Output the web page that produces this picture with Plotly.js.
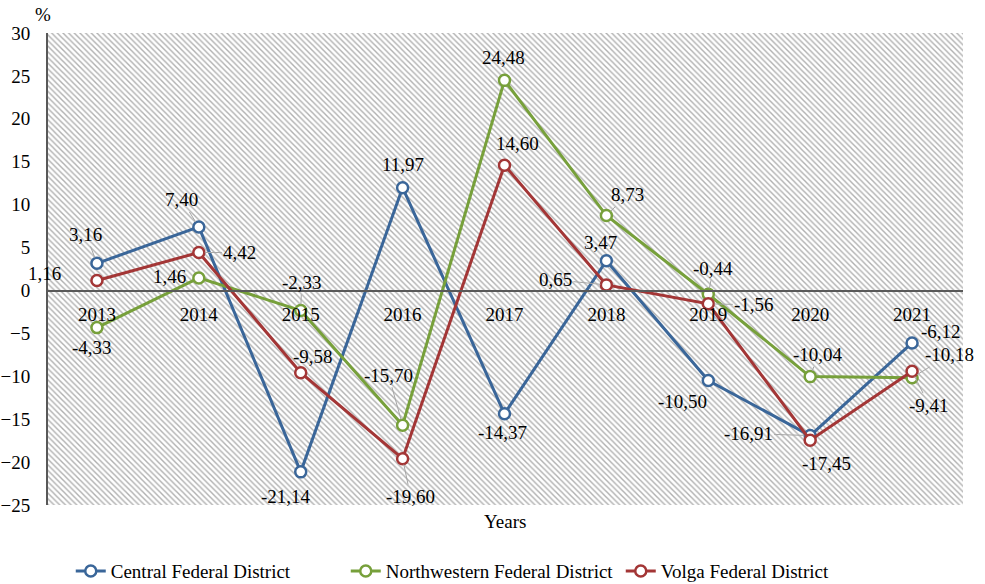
<!DOCTYPE html>
<html>
<head>
<meta charset="utf-8">
<script src="https://cdn.plot.ly/plotly-3.0.1.min.js"></script>
<style>html,body{margin:0;padding:0;background:#fff;}#chart{width:985px;height:584px;}</style>
</head>
<body>
<div id="chart"></div>
<script>
const years = ['2013','2014','2015','2016','2017','2018','2019','2020','2021'];
const central = [3.16, 7.40, -21.14, 11.97, -14.37, 3.47, -10.50, -16.91, -6.12];
const northwestern = [-4.33, 1.46, -2.33, -15.70, 24.48, 8.73, -0.44, -10.04, -10.18];
const volga = [1.16, 4.42, -9.58, -19.60, 14.60, 0.65, -1.56, -17.45, -9.41];
const seriesNames = ['Central Federal District', 'Northwestern Federal District', 'Volga Federal District'];
const colors = ['#3A6699', '#77A03B', '#A33636'];

// label placement offsets (pixels) and whether a leader line is shown
const centralOff = [[-11,-29,1],[-17,-27,1],[-15,25,0],[0,-23,0],[-2,19,0],[-6,-18,0],[-26,21,0],[-62,-2,1],[29,-11,0]];
const northwesternOff = [[-5,20,0],[-29,-1,0],[1,-28,1],[-14,-50,1],[-1,-23,0],[21,-21,1],[5,-26,1],[8,-22,1],[37,-23,1]];
const volgaOff = [[-52,-7,0],[41,0,1],[12,-16,0],[8,38,1],[13,-22,0],[-51,-5,1],[46,1,1],[16,23,0],[17,34,1]];

const FONT = 'Liberation Serif, Times New Roman, serif';

function mkTrace(vals, i) {
  return {
    type: 'scatter', mode: 'lines+markers', name: seriesNames[i],
    x: years, y: vals, xaxis: 'x2', yaxis: 'y2', cliponaxis: false,
    line: {color: colors[i], width: 3},
    marker: {symbol: 'circle', size: 11, color: '#ffffff', line: {color: colors[i], width: 2.5}},
    hoverinfo: 'skip'
  };
}

function mkLabels(vals, offs) {
  return vals.map((v, i) => ({
    xref: 'x2', yref: 'y2', x: i, y: v,
    text: v.toFixed(2).replace('.', ','),
    showarrow: true, ax: offs[i][0], ay: offs[i][1],
    arrowhead: 0, arrowwidth: 1,
    arrowcolor: offs[i][2] ? '#a6a6a6' : 'rgba(0,0,0,0)',
    standoff: 6,
    font: {family: FONT, size: 19, color: '#000'}
  }));
}

const bg = {
  type: 'bar', x: [0.5], y: [1], width: [1], xaxis: 'x', yaxis: 'y',
  marker: {color: '#ffffff', line: {width: 0},
    pattern: {shape: '\\', fgcolor: '#b0b0b0', bgcolor: '#ffffff', size: 4, solidity: 0.35}},
  showlegend: false, hoverinfo: 'skip'
};

const data = [bg, mkTrace(central, 0), mkTrace(northwestern, 1), mkTrace(volga, 2)];

const annotations = [].concat(
  mkLabels(central, centralOff),
  mkLabels(northwestern, northwesternOff),
  mkLabels(volga, volgaOff),
  [
    {xref: 'paper', yref: 'paper', x: 0.5, y: -0.034, yanchor: 'middle', xanchor: 'center', showarrow: false,
     text: 'Years', font: {family: FONT, size: 19, color: '#000'}},
    {xref: 'paper', yref: 'paper', x: -0.003, y: 1.04, yanchor: 'middle', xanchor: 'center', showarrow: false,
     text: '%', font: {family: FONT, size: 19, color: '#000'}}
  ]
);

const layout = {
  width: 985, height: 584,
  margin: {l: 46, r: 22, t: 33, b: 79, autoexpand: false},
  paper_bgcolor: '#ffffff', plot_bgcolor: '#ffffff',
  font: {family: FONT, size: 19, color: '#000'},
  showlegend: true,
  legend: {orientation: 'h', x: 0.027, xanchor: 'left', y: -0.14, yanchor: 'middle',
    entrywidth: 230, entrywidthmode: 'pixels',
    font: {family: FONT, size: 19, color: '#000'}, traceorder: 'normal'},
  bargap: 0,
  xaxis: {range: [0, 1], visible: false, fixedrange: true},
  yaxis: {range: [0, 1], visible: false, fixedrange: true},
  xaxis2: {type: 'category', overlaying: 'x', anchor: 'free', position: 25/55, range: [-0.5, 8.5],
    showline: true, linecolor: '#595959', linewidth: 1.5, showgrid: false, zeroline: false,
    ticks: '', ticklabelstandoff: 6, tickfont: {family: FONT, size: 19, color: '#000'}},
  yaxis2: {overlaying: 'y', anchor: 'free', position: 0, side: 'left', range: [-25, 30], dtick: 5, tick0: 0,
    showline: true, linecolor: '#595959', linewidth: 1.5, showgrid: false, zeroline: false,
    ticks: '', ticklabelstandoff: 12, tickfont: {family: FONT, size: 19, color: '#000'}},
  annotations: annotations
};

Plotly.newPlot('chart', data, layout, {displayModeBar: false, staticPlot: true});
</script>
</body>
</html>
